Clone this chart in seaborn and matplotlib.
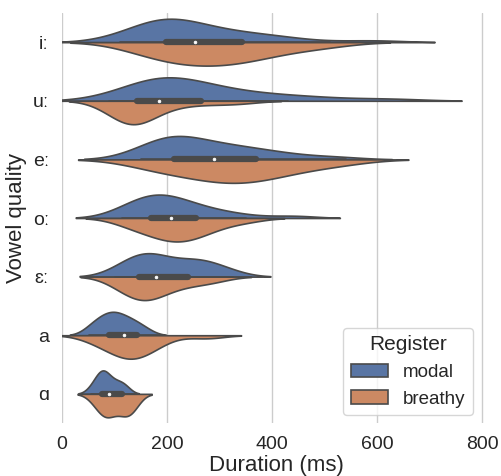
import numpy as np
import pandas as pd
import matplotlib
matplotlib.use("Agg")
import matplotlib.pyplot as plt
import seaborn as sns

vowels = ["iː", "uː", "eː", "oː", "ɛː", "a", "ɑ"]
registers = ["modal", "breathy"]

i_modal = [110, 140, 155, 165, 175, 182, 190, 196, 202, 208, 215, 225, 235, 248, 262, 280, 300, 320, 345, 370, 400, 440, 590]
i_breathy = [130, 160, 180, 200, 215, 230, 245, 260, 275, 290, 305, 320, 335, 350, 370, 390, 420, 460, 510]
u_modal = [120, 145, 160, 170, 180, 185, 190, 195, 205, 215, 230, 245, 265, 285, 310, 340, 380, 430, 490, 620]
u_breathy = [90, 100, 112, 120, 126, 130, 134, 138, 142, 148, 155, 165, 180, 205, 240, 290, 340]
e_modal = [150, 170, 185, 195, 200, 205, 212, 220, 230, 245, 260, 275, 290, 310, 330, 350, 370, 400, 440, 520]
e_breathy = [150, 180, 205, 230, 255, 275, 290, 305, 320, 335, 350, 365, 380, 400, 420, 450, 490, 540]
o_modal = [115, 128, 140, 150, 160, 168, 175, 182, 190, 198, 206, 215, 225, 240, 255, 275, 300, 340, 440]
o_breathy = [118, 140, 160, 175, 190, 200, 210, 220, 230, 240, 252, 265, 280, 305, 350]
eps_modal = [105, 120, 132, 142, 150, 158, 165, 172, 180, 190, 205, 220, 240, 250, 260, 270, 280, 300, 325]
eps_breathy = [100, 115, 128, 138, 146, 153, 160, 168, 176, 186, 200, 218, 240, 265, 295]
a_modal = [52, 62, 72, 80, 86, 92, 98, 104, 110, 118, 126, 135, 145, 160]
a_breathy = [58, 80, 95, 108, 118, 126, 133, 140, 148, 158, 172, 190, 275]
ah_modal = [55, 65, 70, 73, 76, 79, 82, 86, 92, 100, 108, 115, 122]
ah_breathy = [60, 72, 78, 82, 86, 92, 100, 110, 118, 124, 128, 132, 140]

samples = {
    ("iː", "modal"): i_modal, ("iː", "breathy"): i_breathy,
    ("uː", "modal"): u_modal, ("uː", "breathy"): u_breathy,
    ("eː", "modal"): e_modal, ("eː", "breathy"): e_breathy,
    ("oː", "modal"): o_modal, ("oː", "breathy"): o_breathy,
    ("ɛː", "modal"): eps_modal, ("ɛː", "breathy"): eps_breathy,
    ("a", "modal"): a_modal, ("a", "breathy"): a_breathy,
    ("ɑ", "modal"): ah_modal, ("ɑ", "breathy"): ah_breathy,
}
rows = []
for (v, r), vals in samples.items():
    for x in vals:
        rows.append({"Vowel quality": v, "Register": r, "Duration (ms)": x})
df = pd.DataFrame(rows)

sns.set_theme(style="whitegrid", font_scale=1.0)
plt.rcParams['font.family'] = ['Liberation Sans', 'DejaVu Sans']

fig = plt.figure(figsize=(5.01, 4.76), dpi=100)
ax = fig.add_axes([0.124, 0.111, 0.854, 0.862])
sns.violinplot(data=df, x="Duration (ms)", y="Vowel quality", hue="Register",
               order=vowels, hue_order=registers, split=True, inner=None,
               density_norm="width", linecolor="#4a4a4a", linewidth=1.2, ax=ax)
# combined inner box (both registers pooled)
sns.violinplot(data=df, x="Duration (ms)", y="Vowel quality",
               order=vowels, inner="box", fill=False, linewidth=0,
               color="#4a4a4a", linecolor="#4a4a4a",
               inner_kws=dict(box_width=4.5, whis_width=1.2, marker="o",
                              markersize=2.0, markeredgewidth=0.5),
               ax=ax)
ax.set_xlim(0, 815)
ax.set_xticks([0, 200, 400, 600, 800])
ax.tick_params(axis="both", labelsize=14)
ax.set_xlabel("Duration (ms)", fontsize=16, labelpad=1)
ax.set_ylabel("Vowel quality", fontsize=16, labelpad=4)
sns.despine(ax=ax, left=True, bottom=True)
leg = ax.legend(title="Register", loc="lower right", fontsize=13.5, title_fontsize=15,
                bbox_to_anchor=(473 / 501, 1 - 415 / 476), bbox_transform=fig.transFigure,
                borderaxespad=0)
fig.savefig("out.png", dpi=100)
